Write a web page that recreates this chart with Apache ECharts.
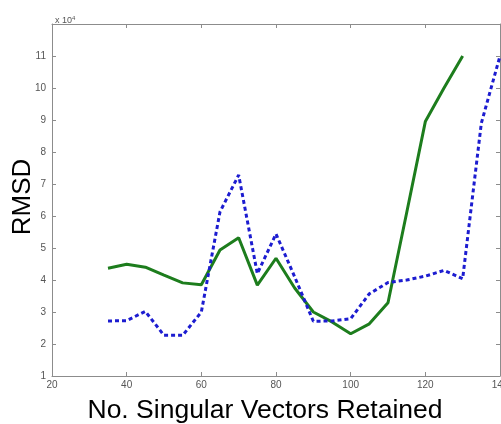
<!DOCTYPE html>
<html>
<head>
<meta charset="utf-8">
<script src="https://cdn.jsdelivr.net/npm/echarts@6/dist/echarts.min.js"></script>
<style>
  html, body { margin: 0; padding: 0; background: #fff; }
  #chart { width: 501px; height: 424px; }
</style>
</head>
<body>
<div id="chart"></div>
<script>
  // singular vectors retained
  var xValues = [35, 40, 45, 50, 55, 60, 65, 70, 75, 80, 85, 90, 95, 100, 105, 110, 115, 120, 125, 130, 135, 140];
  // RMSD, in units of 1e-4
  var greenRmsd = [4.37, 4.49, 4.4, 4.15, 3.91, 3.85, 4.94, 5.32, 3.84, 4.68, 3.75, 3.0, 2.69, 2.32, 2.63, 3.29, 6.1, 8.95, 10.0, 11.0];
  var blueRmsd = [2.72, 2.73, 3.02, 2.27, 2.27, 3.0, 6.13, 7.28, 4.2, 5.44, 4.1, 2.71, 2.72, 2.79, 3.57, 3.92, 4.0, 4.12, 4.3, 4.04, 8.9, 11.0];
  var xTicks = [20, 40, 60, 80, 100, 120, 140];

  function pairs(ys) {
    var out = [];
    for (var i = 0; i < ys.length; i++) {
      out.push([xValues[i], ys[i]]);
    }
    return out;
  }

  var axisGray = '#8c8c8c';
  var tickFont = { color: '#555', fontSize: 10, fontFamily: 'Liberation Sans, Arial, sans-serif' };

  var myChart = echarts.init(document.getElementById('chart'));
  myChart.setOption({
    animation: false,
    title: {
      text: 'x 10{s|4}',
      left: 50,
      top: 10,
      textStyle: {
        color: '#555',
        fontSize: 9,
        fontWeight: 'normal',
        fontFamily: 'Liberation Sans, Arial, sans-serif',
        rich: { s: { fontSize: 6, verticalAlign: 'top', padding: [0, 0, 6, 0], color: '#555' } }
      }
    },
    grid: { left: 52, right: 1, top: 24, bottom: 48, containLabel: false, outerBoundsMode: 'none' },
    xAxis: [
      {
        type: 'value',
        min: xTicks[0],
        max: xTicks[xTicks.length - 1],
        interval: 20,
        name: 'No. Singular Vectors Retained',
        nameLocation: 'middle',
        nameGap: 21,
        nameMoveOverlap: false,
        nameTextStyle: { color: '#000', fontSize: 26.5, fontFamily: 'Liberation Sans, Arial, sans-serif', padding: [0, 22, 0, 0] },
        axisLine: { lineStyle: { color: axisGray, width: 1 } },
        axisTick: { inside: true, length: 4, lineStyle: { color: axisGray } },
        axisLabel: Object.assign({ margin: 4 }, tickFont),
        splitLine: { show: false }
      },
      {
        type: 'value',
        position: 'top',
        min: xTicks[0],
        max: xTicks[xTicks.length - 1],
        interval: 20,
        axisLine: { lineStyle: { color: axisGray, width: 1 } },
        axisTick: { inside: true, length: 4, lineStyle: { color: axisGray } },
        axisLabel: { show: false },
        splitLine: { show: false }
      }
    ],
    yAxis: [
      {
        type: 'value',
        min: 1,
        max: 12,
        interval: 1,
        name: 'RMSD',
        nameLocation: 'middle',
        nameGap: 16,
        nameMoveOverlap: false,
        nameTextStyle: { color: '#000', fontSize: 26, fontFamily: 'Liberation Sans, Arial, sans-serif', padding: [0, 0, 0, 6] },
        axisLine: { lineStyle: { color: axisGray, width: 1 } },
        axisTick: { inside: true, length: 4, lineStyle: { color: axisGray } },
        axisLabel: Object.assign({
          margin: 6,
          formatter: function (v) { return v === 12 ? '' : String(v); }
        }, tickFont),
        splitLine: { show: false }
      },
      {
        type: 'value',
        position: 'right',
        min: 1,
        max: 12,
        interval: 1,
        axisLine: { lineStyle: { color: axisGray, width: 1 } },
        axisTick: { inside: true, length: 4, lineStyle: { color: axisGray } },
        axisLabel: { show: false },
        splitLine: { show: false }
      }
    ],
    series: [
      {
        name: 'green',
        type: 'line',
        showSymbol: false,
        data: pairs(greenRmsd),
        lineStyle: { color: '#1d7d1d', width: 3 },
        z: 2
      },
      {
        name: 'blue',
        type: 'line',
        showSymbol: false,
        data: pairs(blueRmsd),
        lineStyle: { color: '#1c1cd0', width: 3, type: [4, 3] },
        z: 3
      }
    ]
  });
</script>
</body>
</html>
